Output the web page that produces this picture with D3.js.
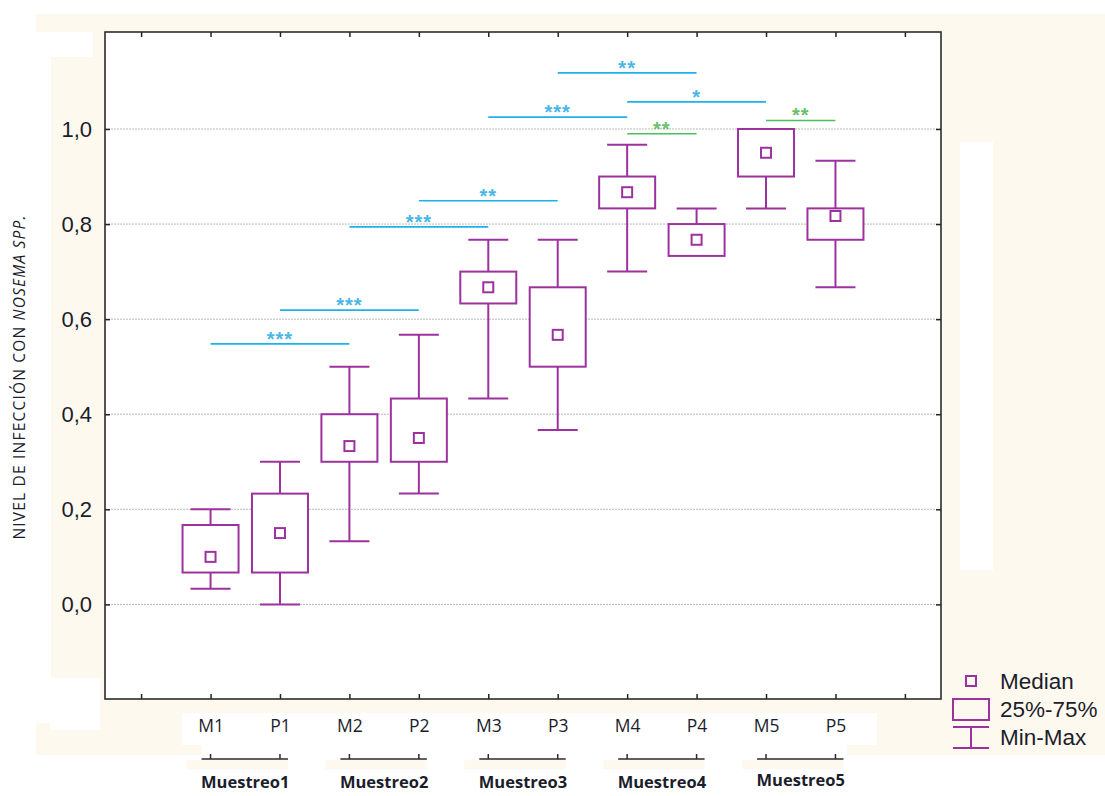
<!DOCTYPE html>
<html>
<head>
<meta charset="utf-8">
<script src="https://cdn.jsdelivr.net/npm/d3@7"></script>
<style>
  html, body { margin: 0; padding: 0; background: #ffffff; }
  svg { display: block; }
</style>
</head>
<body>
<svg id="chart" width="1105" height="796"></svg>
<script>
// ---------------- DATA ----------------
const categories = ["M1", "P1", "M2", "P2", "M3", "P3", "M4", "P4", "M5", "P5"];
const mins    = [0.033, 0.000, 0.133, 0.233, 0.433, 0.367, 0.700, 0.733, 0.833, 0.667];
const q1s     = [0.067, 0.067, 0.300, 0.300, 0.633, 0.500, 0.833, 0.733, 0.900, 0.767];
const medians = [0.100, 0.150, 0.333, 0.350, 0.667, 0.567, 0.867, 0.767, 0.950, 0.817];
const q3s     = [0.167, 0.233, 0.400, 0.433, 0.700, 0.667, 0.900, 0.800, 1.000, 0.833];
const maxs    = [0.200, 0.300, 0.500, 0.567, 0.767, 0.767, 0.967, 0.833, 1.000, 0.933];

const groupLabels = ["Muestreo1", "Muestreo2", "Muestreo3", "Muestreo4", "Muestreo5"];
const groupMembers = [["M1", "P1"], ["M2", "P2"], ["M3", "P3"], ["M4", "P4"], ["M5", "P5"]];

const yTicks = [0.0, 0.2, 0.4, 0.6, 0.8, 1.0];
const yTitleMain = "NIVEL DE INFECCIÓN CON ";
const yTitleItalic = "NOSEMA SPP.";

// significance comparisons
const sigFrom   = ["M1", "P1", "M2", "P2", "M3", "P3", "M4", "M4", "M5"];
const sigTo     = ["M2", "P2", "M3", "P3", "M4", "P4", "M5", "P4", "P5"];
const sigLevel  = [0.548, 0.619, 0.794, 0.849, 1.025, 1.118, 1.057, 0.990, 1.018];
const sigLabel  = ["***", "***", "***", "**", "***", "**", "*", "**", "**"];
const sigKind   = ["between", "between", "between", "between", "between", "between", "between", "within", "within"];

const legendLabels = ["Median", "25%-75%", "Min-Max"];

// ---------------- LAYOUT ----------------
const svg = d3.select("#chart");
const plot = { left: 105, top: 32, right: 941, bottom: 699 };
const purple = "#9c329d";
const cream = "#fef9ee";
const blueLine = "#1fb1ea", blueStar = "#4ab6e8";
const greenLine = "#4cbf5e", greenStar = "#6cbf6a";
const textDark = "#1b1d2c";

// background patches
const bg = svg.append("g");
[
  [36, 14, 1069, 731, cream],
  [36, 32, 15, 691, "#ffffff"],
  [51, 32, 42, 25, "#ffffff"],
  [50, 678, 50, 52, "#ffffff"],
  [36, 745, 166, 10, cream],
  [847, 745, 258, 10, cream],
  [182, 713, 695, 32, "#ffffff"],
  [960, 142, 33, 428, "#ffffff"]
].forEach(r => bg.append("rect").attr("x", r[0]).attr("y", r[1]).attr("width", r[2]).attr("height", r[3]).attr("fill", r[4]));

// scales
const slots = ["_l", ...categories, "_r"];
const x = d3.scalePoint().domain(slots).range([plot.left, plot.right]).padding(0.52);
const y = d3.scaleLinear().domain([-0.199, 1.204]).range([plot.bottom, plot.top]);

// plot area
svg.append("rect").attr("x", plot.left).attr("y", plot.top)
  .attr("width", plot.right - plot.left).attr("height", plot.bottom - plot.top)
  .attr("fill", "#ffffff");

// cream strips under group brackets
groupMembers.forEach(g => {
  svg.append("rect").attr("x", x(g[0]) - 24).attr("y", 760)
    .attr("width", x(g[1]) - x(g[0]) + 32).attr("height", 9).attr("fill", cream);
});

// grid
svg.append("g").selectAll("line").data(yTicks).join("line")
  .attr("x1", plot.left).attr("x2", plot.right)
  .attr("y1", d => y(d)).attr("y2", d => y(d))
  .attr("stroke", "#b9b9b9").attr("stroke-width", 1).attr("stroke-dasharray", "2,1");

const fmt = d => d3.format(".1f")(d).replace(".", ",");

// left axis
const gl = svg.append("g").attr("transform", `translate(${plot.left},0)`)
  .call(d3.axisLeft(y).tickValues(yTicks).tickFormat(fmt).tickSizeInner(-5).tickSizeOuter(0).tickPadding(13));
gl.select(".domain").remove();
gl.selectAll(".tick line").attr("stroke", "#222").attr("stroke-width", 1.5);
gl.selectAll(".tick text").attr("font-family", "'Liberation Sans', Arial, sans-serif")
  .attr("font-size", 22).attr("fill", textDark);

// right axis ticks
const gr = svg.append("g").attr("transform", `translate(${plot.right},0)`)
  .call(d3.axisRight(y).tickValues(yTicks).tickFormat("").tickSizeInner(-5).tickSizeOuter(0));
gr.select(".domain").remove();
gr.selectAll(".tick line").attr("stroke", "#222").attr("stroke-width", 1.5);

// top axis ticks
const gt = svg.append("g").attr("transform", `translate(0,${plot.top})`)
  .call(d3.axisTop(x).tickFormat("").tickSizeInner(-5).tickSizeOuter(0));
gt.select(".domain").remove();
gt.selectAll(".tick line").attr("stroke", "#222").attr("stroke-width", 1.5);

// bottom axis
const gb = svg.append("g").attr("transform", `translate(0,${plot.bottom})`)
  .call(d3.axisBottom(x).tickFormat(d => d.startsWith("_") ? "" : d).tickSizeInner(-5).tickSizeOuter(0).tickPadding(21));
gb.select(".domain").remove();
gb.selectAll(".tick line").attr("stroke", "#222").attr("stroke-width", 1.5);
gb.selectAll(".tick text").attr("font-family", "'Open Sans', sans-serif")
  .attr("font-size", 17.5).attr("fill", textDark);

// frame
svg.append("rect").attr("x", plot.left).attr("y", plot.top)
  .attr("width", plot.right - plot.left).attr("height", plot.bottom - plot.top)
  .attr("fill", "none").attr("stroke", "#2b2b2b").attr("stroke-width", 1.6);

// boxes
const boxW = 56, capW = 40, medS = 10;
const boxes = svg.append("g").attr("stroke", purple).attr("stroke-width", 2).attr("fill", "none");
categories.forEach((c, i) => {
  const cx = x(c);
  const g = boxes.append("g");
  if (maxs[i] > q3s[i]) {
    g.append("line").attr("x1", cx).attr("x2", cx).attr("y1", y(maxs[i])).attr("y2", y(q3s[i]));
    g.append("line").attr("x1", cx - capW / 2).attr("x2", cx + capW / 2).attr("y1", y(maxs[i])).attr("y2", y(maxs[i]));
  }
  if (mins[i] < q1s[i]) {
    g.append("line").attr("x1", cx).attr("x2", cx).attr("y1", y(q1s[i])).attr("y2", y(mins[i]));
    g.append("line").attr("x1", cx - capW / 2).attr("x2", cx + capW / 2).attr("y1", y(mins[i])).attr("y2", y(mins[i]));
  }
  g.append("rect").attr("x", cx - boxW / 2).attr("y", y(q3s[i]))
    .attr("width", boxW).attr("height", y(q1s[i]) - y(q3s[i])).attr("fill", "#fff");
  g.append("rect").attr("x", cx - medS / 2).attr("y", y(medians[i]) - medS / 2)
    .attr("width", medS).attr("height", medS).attr("fill", "#fff");
});

// significance lines
const sig = svg.append("g");
sigFrom.forEach((f, i) => {
  const x1 = x(f), x2 = x(sigTo[i]), yy = y(sigLevel[i]);
  const within = sigKind[i] === "within";
  sig.append("line").attr("x1", x1).attr("x2", x2).attr("y1", yy).attr("y2", yy)
    .attr("stroke", within ? greenLine : blueLine).attr("stroke-width", 1.6);
  sig.append("text").attr("x", (x1 + x2) / 2).attr("y", yy + 2)
    .attr("text-anchor", "middle").attr("font-family", "'Liberation Sans', Arial, sans-serif")
    .attr("font-size", 20).attr("font-weight", "bold").attr("letter-spacing", 1)
    .attr("fill", within ? greenStar : blueStar).text(sigLabel[i]);
});

// group brackets
const gg = svg.append("g");
groupMembers.forEach((g, i) => {
  const a = x(g[0]), b = x(g[1]);
  gg.append("line").attr("x1", a - 9).attr("x2", b + 8).attr("y1", 759).attr("y2", 759)
    .attr("stroke", "#2b2b2b").attr("stroke-width", 1.5);
  [a, b].forEach(t => gg.append("line").attr("x1", t).attr("x2", t).attr("y1", 754).attr("y2", 759)
    .attr("stroke", "#2b2b2b").attr("stroke-width", 1.5));
  gg.append("text").attr("x", (a + b) / 2).attr("y", i === 4 ? 786 : 788)
    .attr("text-anchor", "middle").attr("font-family", "'Open Sans', sans-serif")
    .attr("font-size", 16.5).attr("font-weight", "bold").attr("fill", textDark)
    .text(groupLabels[i]);
});

// y-axis title
const yt = svg.append("text").attr("transform", "translate(25,377) rotate(-90)")
  .attr("text-anchor", "middle").attr("font-family", "'Open Sans', sans-serif")
  .attr("font-size", 15.5).attr("letter-spacing", 1.2).attr("fill", textDark);
yt.append("tspan").text(yTitleMain);
yt.append("tspan").attr("font-style", "italic").text(yTitleItalic);

// legend
const lg = svg.append("g").attr("stroke", purple).attr("stroke-width", 2).attr("fill", "none");
lg.append("rect").attr("x", 966).attr("y", 676).attr("width", 10).attr("height", 10);
lg.append("rect").attr("x", 953).attr("y", 699).attr("width", 36).attr("height", 21);
lg.append("line").attr("x1", 953).attr("x2", 989).attr("y1", 727).attr("y2", 727);
lg.append("line").attr("x1", 953).attr("x2", 989).attr("y1", 748).attr("y2", 748);
lg.append("line").attr("x1", 971).attr("x2", 971).attr("y1", 727).attr("y2", 748);
svg.append("g").selectAll("text").data(legendLabels).join("text")
  .attr("x", 1000).attr("y", (d, i) => 689 + i * 28)
  .attr("font-family", "'Liberation Sans', Arial, sans-serif").attr("font-size", 22.5)
  .attr("fill", textDark).text(d => d);
</script>
</body>
</html>
